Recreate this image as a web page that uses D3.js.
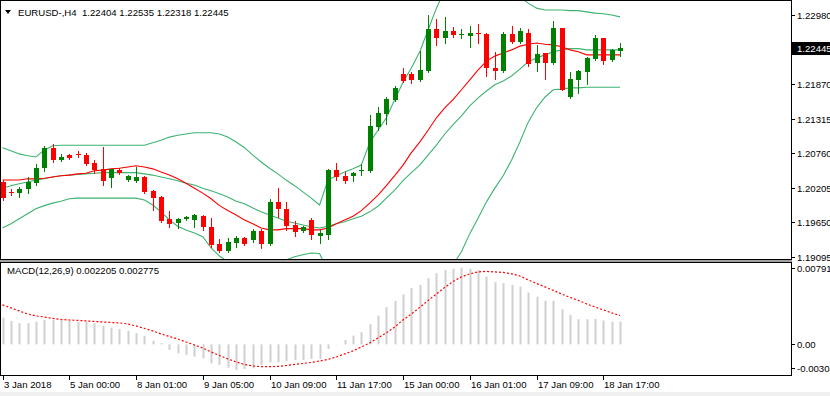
<!DOCTYPE html>
<html>
<head>
<meta charset="utf-8">
<script src="https://cdn.jsdelivr.net/npm/d3@7"></script>
<style>
    body { margin: 0; background: #fff; }
    svg text { font-family: "Liberation Sans", Arial, sans-serif; font-size: 9.6px; fill: #000; }
</style>
</head>
<body>
<script>
// EURUSD H4 candles
var opens  = [1.20300,1.20139,1.20123,1.20187,1.20284,1.20524,1.20845,1.20653,1.20733,1.20749,
              1.20733,1.20605,1.20508,1.20364,1.20492,1.20332,1.20316,1.20380,1.20155,1.20059,
              1.19706,1.19642,1.19706,1.19690,1.19754,1.19578,1.19305,1.19192,1.19321,1.19401,
              1.19369,1.19513,1.19305,1.19979,1.19866,1.19610,1.19513,1.19690,1.19433,1.19449,
              1.20492,1.20396,1.20396,1.20468,1.20476,1.21182,1.21391,1.21616,1.22033,1.22033,
              1.21937,1.22081,1.22755,1.22611,1.22723,1.22659,1.22643,1.22691,1.22675,1.22129,
              1.22081,1.22675,1.22547,1.22691,1.22210,1.22370,1.22210,1.22771,1.21664,1.21937,
              1.22065,1.22274,1.22611,1.22258,1.22404];
var highs  = [1.20332,1.20187,1.20219,1.20380,1.20589,1.20877,1.20910,1.20749,1.20749,1.20797,
              1.20765,1.20653,1.20861,1.20508,1.20524,1.20412,1.20540,1.20396,1.20171,1.20075,
              1.19834,1.19722,1.19754,1.19786,1.19770,1.19722,1.19385,1.19401,1.19433,1.19417,
              1.19545,1.19545,1.20027,1.20204,1.19979,1.19674,1.19594,1.19722,1.19529,1.20508,
              1.20605,1.20460,1.20460,1.20589,1.21375,1.21503,1.21664,1.21840,1.22130,1.22065,
              1.22402,1.22980,1.22916,1.22948,1.22787,1.22755,1.22803,1.22835,1.22691,1.22386,
              1.22707,1.22803,1.22771,1.22755,1.22499,1.22370,1.22884,1.22771,1.22065,1.22097,
              1.22306,1.22659,1.22611,1.22434,1.22535];
var lows   = [1.20011,1.20091,1.20059,1.20123,1.20252,1.20476,1.20621,1.20637,1.20669,1.20701,
              1.20573,1.20444,1.20252,1.20219,1.20428,1.20316,1.20300,1.20123,1.19850,1.19658,
              1.19578,1.19562,1.19690,1.19578,1.19529,1.19256,1.19176,1.19176,1.19256,1.19289,
              1.19337,1.19240,1.19289,1.19738,1.19529,1.19433,1.19497,1.19385,1.19321,1.19385,
              1.20332,1.20284,1.20316,1.20412,1.20460,1.21134,1.21230,1.21600,1.21905,1.21889,
              1.21921,1.22065,1.22499,1.22531,1.22627,1.22611,1.22466,1.22531,1.22001,1.21953,
              1.22065,1.22531,1.22531,1.22162,1.22081,1.21953,1.22194,1.21776,1.21648,1.21728,
              1.21873,1.22258,1.22194,1.22242,1.22318];
var closes = [1.20043,1.20123,1.20187,1.20300,1.20524,1.20845,1.20653,1.20701,1.20685,1.20725,
              1.20589,1.20492,1.20316,1.20508,1.20444,1.20396,1.20380,1.20139,1.20043,1.19674,
              1.19626,1.19706,1.19738,1.19770,1.19578,1.19289,1.19192,1.19337,1.19401,1.19305,
              1.19513,1.19305,1.19979,1.19866,1.19594,1.19497,1.19578,1.19449,1.19481,1.20492,
              1.20380,1.20316,1.20444,1.20484,1.21198,1.21407,1.21632,1.21808,1.21921,1.21937,
              1.22097,1.22755,1.22611,1.22723,1.22659,1.22675,1.22691,1.22675,1.22129,1.22081,
              1.22675,1.22547,1.22723,1.22194,1.22354,1.22210,1.22771,1.21776,1.21953,1.22081,
              1.22290,1.22611,1.22242,1.22418,1.22445];

// Bollinger bands (green) and the red moving average
var bbUpper  = [1.2085,1.2080,1.2075,1.2072,1.2070,1.2081,1.2088,1.2089,1.2089,1.2089,
                1.2089,1.2089,1.2089,1.2089,1.2089,1.2089,1.2089,1.2089,1.2093,1.2097,
                1.2102,1.2105,1.2107,1.2109,1.2109,1.2109,1.2107,1.2102,1.2094,1.2085,
                1.2073,1.2062,1.2052,1.2043,1.2033,1.2024,1.2014,1.2004,1.1993,1.2033,
                1.2040,1.2046,1.2051,1.2057,1.2093,1.2113,1.2133,1.2162,1.2190,1.2213,
                1.2239,1.2274,1.2309,1.2338,1.2346,1.2354,1.2357,1.2357,1.2354,1.2351,
                1.2345,1.2335,1.2327,1.2317,1.2309,1.2306,1.2306,1.2306,1.2305,1.2305,
                1.2303,1.2301,1.2300,1.2298,1.2295];
var bbMiddle = [1.2020,1.2024,1.2027,1.2030,1.2033,1.2035,1.2038,1.2040,1.2041,1.2042,
                1.2043,1.2044,1.2045,1.2045,1.2045,1.2045,1.2045,1.2043,1.2041,1.2038,
                1.2035,1.2032,1.2028,1.2025,1.2020,1.2016,1.2011,1.2006,1.1999,1.1995,
                1.1988,1.1982,1.1977,1.1972,1.1967,1.1964,1.1961,1.1958,1.1956,1.1959,
                1.1963,1.1966,1.1971,1.1975,1.1982,1.1991,1.2004,1.2017,1.2032,1.2045,
                1.2057,1.2073,1.2089,1.2107,1.2122,1.2136,1.2152,1.2165,1.2176,1.2186,
                1.2192,1.2200,1.2211,1.2223,1.2229,1.2234,1.2239,1.2242,1.2244,1.2244,
                1.2242,1.2242,1.2242,1.2242,1.2242];
var bbLower  = [1.1956,1.1963,1.1971,1.1979,1.1987,1.1992,1.1996,1.1999,1.2003,1.2004,
                1.2004,1.2004,1.2004,1.2004,1.2004,1.2004,1.2004,1.2001,1.1993,1.1982,
                1.1969,1.1959,1.1953,1.1948,1.1942,1.1924,1.1911,1.1902,1.1895,1.1892,
                1.1892,1.1895,1.1898,1.1902,1.1905,1.1910,1.1913,1.1916,1.1915,1.1886,
                1.1886,1.1886,1.1890,1.1894,1.1871,1.1869,1.1876,1.1873,1.1873,1.1876,
                1.1876,1.1873,1.1869,1.1876,1.1897,1.1918,1.1947,1.1972,1.1998,1.2020,
                1.2040,1.2065,1.2094,1.2126,1.2149,1.2166,1.2178,1.2179,1.2181,1.2181,
                1.2182,1.2182,1.2182,1.2182,1.2182];
var maRed    = [1.2033,1.2033,1.2033,1.2035,1.2035,1.2036,1.2038,1.2040,1.2041,1.2043,
                1.2044,1.2048,1.2049,1.2051,1.2052,1.2054,1.2056,1.2054,1.2051,1.2046,
                1.2041,1.2035,1.2028,1.2020,1.2012,1.2003,1.1992,1.1984,1.1977,1.1969,
                1.1963,1.1956,1.1953,1.1953,1.1955,1.1955,1.1955,1.1953,1.1953,1.1956,
                1.1963,1.1969,1.1975,1.1984,1.1996,1.2009,1.2024,1.2040,1.2057,1.2077,
                1.2094,1.2113,1.2133,1.2149,1.2162,1.2178,1.2194,1.2210,1.2224,1.2232,
                1.2237,1.2242,1.2248,1.2251,1.2253,1.2251,1.2250,1.2247,1.2242,1.2239,
                1.2234,1.2234,1.2234,1.2234,1.2234];

// MACD(12,26,9): main as histogram, signal as dotted line
var macdMain   = [0.00257,0.00225,0.00203,0.00203,0.00218,0.00234,0.00234,0.00234,0.00225,0.00218,
                  0.00218,0.00203,0.00180,0.00160,0.00148,0.00129,0.00107,0.00081,0.00033,0.00011,
                  -0.00054,-0.00086,-0.00102,-0.00118,-0.00134,-0.00182,-0.00198,-0.00224,-0.00246,-0.00236,
                  -0.00230,-0.00198,-0.00172,-0.00172,-0.00160,-0.00150,-0.00150,-0.00140,-0.00140,-0.00044,
                  0.00003,0.00042,0.00084,0.00116,0.00193,0.00276,0.00357,0.00417,0.00478,0.00542,
                  0.00571,0.00635,0.00683,0.00715,0.00725,0.00737,0.00725,0.00715,0.00651,0.00597,
                  0.00587,0.00571,0.00554,0.00497,0.00458,0.00417,0.00417,0.00337,0.00283,0.00241,
                  0.00241,0.00244,0.00228,0.00218,0.002205];
var macdSignal = [0.00379,0.00350,0.00321,0.00292,0.00273,0.00263,0.00249,0.00239,0.00234,0.00230,
                  0.00225,0.00220,0.00215,0.00210,0.00206,0.00196,0.00177,0.00153,0.00129,0.00100,
                  0.00076,0.00052,0.00023,-0.00006,-0.00035,-0.00073,-0.00107,-0.00140,-0.00169,-0.00193,
                  -0.00208,-0.00214,-0.00214,-0.00212,-0.00203,-0.00193,-0.00184,-0.00174,-0.00160,-0.00145,
                  -0.00121,-0.00092,-0.00063,-0.00025,0.00013,0.00062,0.00110,0.00167,0.00234,0.00292,
                  0.00355,0.00422,0.00484,0.00547,0.00604,0.00648,0.00677,0.00696,0.00701,0.00696,
                  0.00691,0.00677,0.00657,0.00619,0.00585,0.00552,0.00518,0.00484,0.00451,0.00422,
                  0.00388,0.00359,0.00331,0.00302,0.002775];

// axis labels
var priceTicks = [1.22980, 1.21870, 1.21315, 1.20760, 1.20205, 1.19650, 1.19095];
var lastPrice = 1.22445;
var macdTicks = ["0.00791", "0.00", "-0.00304"];
var timeBars = [0, 8, 16, 24, 32, 40, 48, 56, 64, 72];
var timeLabels = ["3 Jan 2018", "5 Jan 00:00", "8 Jan 01:00", "9 Jan 05:00", "10 Jan 09:00",
                  "11 Jan 17:00", "15 Jan 00:00", "16 Jan 01:00", "17 Jan 09:00", "18 Jan 17:00"];

var W = 830, H = 396,
    right = 791,
    mainTop = 0, mainBottom = 259,
    subTop = 262, subBottom = 375;

var svg = d3.select("body").append("svg")
    .attr("width", W)
    .attr("height", H);

svg.append("rect").attr("x", 0).attr("y", 392).attr("width", W).attr("height", 4).attr("fill", "#f0f0f0");

var x = d3.scaleLinear().domain([0, closes.length - 1]).range([2.5, 620]);
var y = d3.scaleLinear().domain([1.19095, 1.22980]).range([257, 15]);
var ym = d3.scaleLinear().domain([-0.00304, 0.00791]).range([376, 262]);

var defs = svg.append("defs");
defs.append("clipPath").attr("id", "clipMain").append("rect")
    .attr("x", 1).attr("y", mainTop + 1).attr("width", right - 1).attr("height", mainBottom - mainTop - 1);
defs.append("clipPath").attr("id", "clipSub").append("rect")
    .attr("x", 1).attr("y", subTop + 1).attr("width", right - 1).attr("height", subBottom - subTop - 1);

//main price window
var main = svg.append("g").attr("clip-path", "url(#clipMain)");

function lineOf(scale){
    return d3.line()
        .x(function(d, i){ return x(i); })
        .y(function(d){ return scale(d); });
}

[bbUpper, bbMiddle, bbLower].forEach(function(band){
    main.append("path")
        .datum(band)
        .attr("d", lineOf(y))
        .attr("fill", "none")
        .attr("stroke", "#3cb371")
        .attr("stroke-width", 1.1);
});

main.append("path")
    .datum(maRed)
    .attr("d", lineOf(y))
    .attr("fill", "none")
    .attr("stroke", "#ff0000")
    .attr("stroke-width", 1.1);

var candles = closes.map(function(c, i){
    return {i: i, o: opens[i], h: highs[i], l: lows[i], c: c};
});

var cg = main.selectAll(".candle")
    .data(candles)
    .enter()
    .append("g")
    .attr("class", "candle")
    .attr("fill", function(d){ return d.c >= d.o ? "#008000" : "#ff0000"; })
    .attr("stroke", function(d){ return d.c >= d.o ? "#008000" : "#ff0000"; });

cg.append("line")
    .attr("x1", function(d){ return Math.round(x(d.i)) + 0.5; })
    .attr("x2", function(d){ return Math.round(x(d.i)) + 0.5; })
    .attr("y1", function(d){ return Math.round(y(d.h)); })
    .attr("y2", function(d){ return Math.round(y(d.l)) + 1; })
    .attr("stroke-width", 1);

cg.append("rect")
    .attr("x", function(d){ return Math.round(x(d.i)) - 2; })
    .attr("width", 5)
    .attr("y", function(d){ return Math.round(y(Math.max(d.o, d.c))); })
    .attr("height", function(d){
        return Math.max(1, Math.round(y(Math.min(d.o, d.c))) - Math.round(y(Math.max(d.o, d.c))));
    })
    .attr("stroke", "none");

//MACD window
var sub = svg.append("g").attr("clip-path", "url(#clipSub)");

sub.selectAll(".hist")
    .data(macdMain)
    .enter()
    .append("rect")
    .attr("class", "hist")
    .attr("x", function(d, i){ return Math.round(x(i)) - 0.5; })
    .attr("width", 2)
    .attr("y", function(d){ return Math.min(ym(d), ym(0)); })
    .attr("height", function(d){ return Math.abs(ym(d) - ym(0)); })
    .attr("fill", "#d0d0d0");

sub.append("path")
    .datum(macdSignal)
    .attr("d", lineOf(ym))
    .attr("fill", "none")
    .attr("stroke", "#ff0000")
    .attr("stroke-width", 1.2)
    .attr("stroke-dasharray", "2,2");

//frames
svg.append("rect")
    .attr("x", 0.5).attr("y", mainTop + 0.5)
    .attr("width", right).attr("height", mainBottom - mainTop)
    .attr("fill", "none").attr("stroke", "#000");
svg.append("rect")
    .attr("x", 0).attr("y", mainBottom + 1)
    .attr("width", right + 1).attr("height", subTop - mainBottom - 1)
    .attr("fill", "#a0a0a0");
svg.append("rect")
    .attr("x", 0.5).attr("y", subTop + 0.5)
    .attr("width", right).attr("height", subBottom - subTop)
    .attr("fill", "none").attr("stroke", "#000");

//price scale
var pt = svg.selectAll(".ptick")
    .data(priceTicks)
    .enter()
    .append("g")
    .attr("transform", function(d){ return "translate(0," + Math.round(y(d)) + ")"; });
pt.append("line")
    .attr("x1", right + 1).attr("x2", right + 4)
    .attr("y1", 0.5).attr("y2", 0.5)
    .attr("stroke", "#000");
pt.append("text")
    .attr("x", right + 6)
    .attr("y", 4)
    .text(function(d){ return d.toFixed(5); });

var lp = y(lastPrice);
svg.append("rect")
    .attr("x", right + 1).attr("y", Math.round(lp) - 6)
    .attr("width", W - right - 1).attr("height", 13)
    .attr("fill", "#000");
svg.append("text")
    .attr("x", right + 6).attr("y", Math.round(lp) + 4)
    .style("fill", "#fff")
    .text(lastPrice.toFixed(5));

//MACD scale
var macdPos = [268, ym(0), 368];
macdTicks.forEach(function(t, k){
    svg.append("line")
        .attr("x1", right + 1).attr("x2", right + 4)
        .attr("y1", Math.round(macdPos[k]) + 0.5).attr("y2", Math.round(macdPos[k]) + 0.5)
        .attr("stroke", "#000");
    svg.append("text")
        .attr("x", right + 6)
        .attr("y", Math.round(macdPos[k]) + 4)
        .text(t);
});

//time scale
var tt = svg.selectAll(".ttick")
    .data(timeBars)
    .enter()
    .append("g")
    .attr("transform", function(d){ return "translate(" + Math.round(x(d)) + ",0)"; });
tt.append("line")
    .attr("x1", 0.5).attr("x2", 0.5)
    .attr("y1", subBottom).attr("y2", subBottom + 5)
    .attr("stroke", "#000");
tt.append("text")
    .attr("x", 1)
    .attr("y", subBottom + 13)
    .text(function(d, k){ return timeLabels[k]; });

//window titles
svg.append("path")
    .attr("d", "M5,10 L11,10 L8,14 Z")
    .attr("fill", "#000");
svg.append("text")
    .attr("x", 18).attr("y", 16)
    .text("EURUSD-,H4  1.22404 1.22535 1.22318 1.22445")
    .attr("xml:space", "preserve")
    .style("white-space", "pre");
svg.append("text")
    .attr("x", 7).attr("y", 274)
    .text("MACD(12,26,9) 0.002205 0.002775");
</script>
</body>
</html>
